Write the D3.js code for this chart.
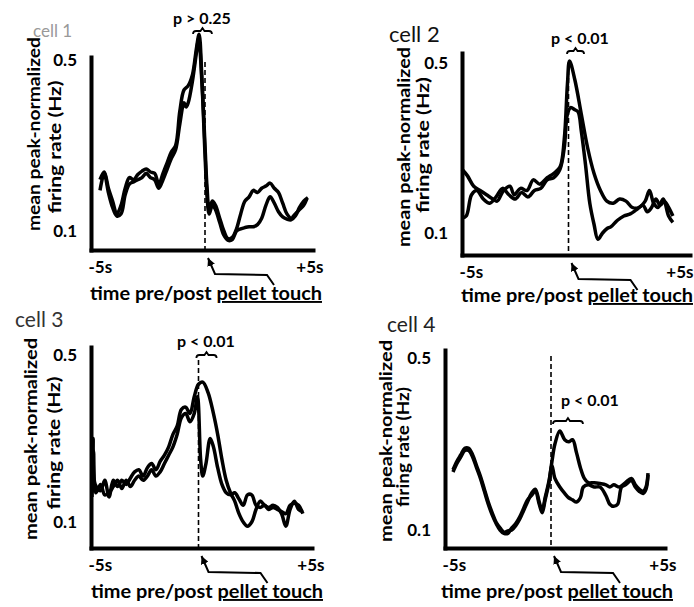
<!DOCTYPE html>
<html>
<head>
<meta charset="utf-8">
<style>
  body { margin: 0; background: #fff; }
  svg text { font-family: Lato, "Open Sans", sans-serif; }
</style>
</head>
<body>
<svg id="fig" width="694" height="607"></svg>
<script src="https://cdn.jsdelivr.net/npm/d3@7/dist/d3.min.js"></script>
<script>
// ---- values ----
const cellNames = ["cell 1", "cell 2", "cell 3", "cell 4"];
const pLabels = ["p > 0.25", "p < 0.01", "p < 0.01", "p < 0.01"];
const pWindows = [[-0.57, 0.33], [-0.07, 0.73], [-0.1, 0.85], [0.1, 1.63]]; // seconds
const yTicks = [0.1, 0.5];
const xTicks = [-5, 5];
const xTickLabels = ["-5s", "+5s"];
const yLabelLines = ["mean peak-normalized", "firing rate (Hz)"];
const xLabelPlain = "time pre/post ";
const xLabelUnderlined = "pellet touch";

// [time (s), rate] pairs, two traces per cell
const cell1A = [[-5,0.22],[-4.8,0.238],[-4.6,0.2],[-4.4,0.17],[-4.2,0.14],[-4,0.16],[-3.8,0.2],[-3.6,0.225],[-3.4,0.22],[-3.2,0.232],[-3,0.24],[-2.8,0.245],[-2.6,0.238],[-2.4,0.235],[-2.2,0.21],[-2,0.235],[-1.8,0.26],[-1.6,0.285],[-1.4,0.3],[-1.2,0.38],[-1,0.43],[-0.8,0.44],[-0.6,0.465],[-0.4,0.53],[-0.28,0.56],[-0.15,0.46],[0,0.3],[0.1,0.2],[0.2,0.15],[0.35,0.17],[0.5,0.16],[0.7,0.13],[0.9,0.1],[1.1,0.082],[1.3,0.085],[1.5,0.105],[1.7,0.14],[1.9,0.17],[2.1,0.18],[2.3,0.195],[2.5,0.19],[2.7,0.2],[2.9,0.205],[3.1,0.212],[3.3,0.2],[3.5,0.19],[3.7,0.165],[3.9,0.14],[4.1,0.13],[4.3,0.14],[4.5,0.15],[4.7,0.16],[4.85,0.175]];
const cell1B = [[-5,0.195],[-4.8,0.235],[-4.6,0.19],[-4.4,0.155],[-4.2,0.135],[-4,0.14],[-3.8,0.185],[-3.6,0.21],[-3.4,0.215],[-3.2,0.22],[-3,0.225],[-2.8,0.235],[-2.6,0.225],[-2.4,0.22],[-2.2,0.2],[-2,0.22],[-1.8,0.245],[-1.6,0.27],[-1.4,0.29],[-1.2,0.35],[-1,0.4],[-0.9,0.39],[-0.8,0.4],[-0.6,0.45],[-0.4,0.52],[-0.3,0.55],[-0.15,0.45],[0,0.28],[0.1,0.18],[0.2,0.14],[0.35,0.16],[0.5,0.15],[0.7,0.12],[0.9,0.09],[1.1,0.078],[1.3,0.08],[1.5,0.1],[1.7,0.105],[1.9,0.108],[2.1,0.11],[2.3,0.11],[2.5,0.115],[2.7,0.13],[2.9,0.16],[3.1,0.18],[3.3,0.165],[3.5,0.145],[3.7,0.133],[3.9,0.128],[4.1,0.126],[4.3,0.135],[4.5,0.155],[4.7,0.17],[4.9,0.178]];

const cell2A = [[-5,0.25],[-4.75,0.235],[-4.45,0.21],[-4.15,0.2],[-3.85,0.19],[-3.55,0.18],[-3.35,0.175],[-3.05,0.2],[-2.75,0.21],[-2.55,0.19],[-2.25,0.205],[-1.95,0.2],[-1.65,0.225],[-1.35,0.215],[-1,0.23],[-0.7,0.24],[-0.4,0.255],[-0.2,0.32],[-0.05,0.45],[0.05,0.505],[0.3,0.46],[0.6,0.38],[0.9,0.3],[1.2,0.24],[1.5,0.2],[1.8,0.175],[2.1,0.17],[2.4,0.18],[2.7,0.175],[3,0.16],[3.3,0.16],[3.6,0.175],[3.8,0.2],[4,0.17],[4.2,0.16],[4.45,0.18],[4.7,0.14],[4.9,0.125]];
const cell2B = [[-5,0.135],[-4.8,0.14],[-4.55,0.19],[-4.3,0.2],[-4,0.18],[-3.7,0.17],[-3.4,0.185],[-3.1,0.205],[-2.8,0.19],[-2.5,0.18],[-2.2,0.195],[-1.9,0.185],[-1.6,0.2],[-1.3,0.205],[-1,0.225],[-0.7,0.23],[-0.4,0.25],[-0.2,0.3],[-0.05,0.38],[0.1,0.395],[0.3,0.39],[0.45,0.385],[0.6,0.34],[0.8,0.26],[1,0.17],[1.2,0.12],[1.38,0.085],[1.6,0.1],[1.8,0.11],[2,0.115],[2.3,0.13],[2.6,0.14],[2.9,0.145],[3.2,0.155],[3.5,0.165],[3.7,0.15],[3.9,0.16],[4.1,0.18],[4.3,0.165],[4.5,0.175],[4.7,0.16],[4.9,0.14]];

const cell3A = [[-5,0.16],[-4.95,0.3],[-4.85,0.19],[-4.6,0.175],[-4.4,0.2],[-4.2,0.16],[-4,0.2],[-3.8,0.185],[-3.6,0.2],[-3.4,0.19],[-3.2,0.205],[-3,0.22],[-2.8,0.225],[-2.6,0.21],[-2.4,0.23],[-2.2,0.24],[-2,0.225],[-1.8,0.245],[-1.6,0.26],[-1.4,0.28],[-1.2,0.31],[-1,0.33],[-0.8,0.37],[-0.6,0.375],[-0.4,0.36],[-0.2,0.4],[0,0.43],[0.2,0.435],[0.45,0.41],[0.7,0.36],[0.9,0.31],[1.1,0.25],[1.3,0.2],[1.5,0.17],[1.7,0.15],[1.9,0.12],[2.1,0.1],[2.3,0.09],[2.5,0.1],[2.7,0.13],[2.9,0.15],[3.1,0.14],[3.3,0.135],[3.5,0.14],[3.7,0.135],[3.9,0.12],[4.1,0.09],[4.3,0.13],[4.5,0.15],[4.7,0.13],[4.9,0.125]];
const cell3B = [[-5,0.17],[-4.93,0.27],[-4.82,0.17],[-4.6,0.19],[-4.4,0.165],[-4.2,0.17],[-4,0.185],[-3.8,0.2],[-3.6,0.18],[-3.4,0.2],[-3.2,0.185],[-3,0.2],[-2.8,0.21],[-2.6,0.2],[-2.4,0.21],[-2.2,0.225],[-2,0.21],[-1.8,0.22],[-1.6,0.24],[-1.4,0.26],[-1.2,0.28],[-1,0.31],[-0.8,0.35],[-0.6,0.36],[-0.4,0.34],[-0.2,0.36],[-0.05,0.4],[0.1,0.25],[0.2,0.21],[0.35,0.24],[0.55,0.3],[0.7,0.28],[0.9,0.23],[1.1,0.19],[1.3,0.17],[1.5,0.165],[1.7,0.17],[1.9,0.155],[2.1,0.14],[2.3,0.165],[2.5,0.165],[2.7,0.14],[2.9,0.135],[3.1,0.14],[3.3,0.13],[3.5,0.135],[3.7,0.13],[3.9,0.125],[4.1,0.12],[4.3,0.14],[4.5,0.145],[4.7,0.14],[4.9,0.12]];

const cell4A = [[-5,0.24],[-4.8,0.26],[-4.6,0.275],[-4.4,0.29],[-4.2,0.29],[-4,0.275],[-3.8,0.25],[-3.6,0.225],[-3.4,0.195],[-3.2,0.165],[-3,0.14],[-2.8,0.118],[-2.6,0.105],[-2.4,0.095],[-2.2,0.098],[-2,0.1],[-1.8,0.11],[-1.6,0.125],[-1.4,0.145],[-1.2,0.165],[-1,0.185],[-0.8,0.195],[-0.6,0.165],[-0.45,0.145],[-0.3,0.175],[-0.1,0.215],[0.05,0.26],[0.2,0.3],[0.45,0.33],[0.7,0.31],[0.9,0.305],[1.1,0.31],[1.3,0.28],[1.5,0.245],[1.7,0.22],[1.9,0.21],[2.2,0.21],[2.5,0.208],[2.8,0.205],[3,0.2],[3.2,0.205],[3.5,0.2],[3.8,0.21],[4.1,0.22],[4.3,0.205],[4.5,0.195],[4.7,0.19],[4.85,0.2],[4.95,0.232]];
const cell4B = [[-5,0.235],[-4.8,0.255],[-4.6,0.27],[-4.4,0.285],[-4.2,0.285],[-4,0.27],[-3.8,0.245],[-3.6,0.22],[-3.4,0.19],[-3.2,0.16],[-3,0.135],[-2.8,0.115],[-2.6,0.1],[-2.4,0.092],[-2.2,0.092],[-2,0.105],[-1.8,0.115],[-1.6,0.13],[-1.4,0.15],[-1.2,0.17],[-1,0.18],[-0.8,0.19],[-0.6,0.16],[-0.45,0.14],[-0.3,0.17],[-0.1,0.21],[0.05,0.25],[0.2,0.22],[0.45,0.2],[0.7,0.185],[0.9,0.175],[1.1,0.17],[1.3,0.165],[1.5,0.175],[1.65,0.2],[1.9,0.205],[2.2,0.2],[2.5,0.2],[2.8,0.18],[3,0.16],[3.2,0.155],[3.4,0.16],[3.6,0.2],[3.8,0.205],[4.1,0.215],[4.3,0.2],[4.5,0.19],[4.7,0.185],[4.85,0.195],[4.95,0.228]];

const traces = [[cell1A, cell1B], [cell2A, cell2B], [cell3A, cell3B], [cell4A, cell4B]];

// ---- layout of the four panels (pixels) ----
const layout = [
  { axisX: 91, axisR: 313, top: 57, bottom: 250, x0: 100, x1: 310, yLo: 231, yHi: 60, dashTop: 62, tickEnd: 323,
    name: { x: 33, y: 37, size: 17, fill: "#999" }, ylab: [[33, 134, 194], [54, 147, 133]],
    p: { cx: 202, y: 24, by: 31 }, xlab: { cx: 206, y: 300 } },
  { axisX: 462, axisR: 690, top: 53, bottom: 255, x0: 462, x1: 675, yLo: 233, yHi: 63, dashTop: 62, tickEnd: 693,
    name: { x: 389, y: 42, size: 22, fill: "#111" }, ylab: [[403, 147, 200], [422, 145, 136]],
    p: { cx: 580, y: 44, by: 51 }, xlab: { cx: 577, y: 302 } },
  { axisX: 91, axisR: 312, top: 347, bottom: 548, x0: 92, x1: 305, yLo: 522, yHi: 355, dashTop: 360, tickEnd: 324,
    name: { x: 15, y: 327, size: 21, fill: "#333" }, ylab: [[30, 439, 202], [53, 443, 133]],
    p: { cx: 206, y: 347, by: 355 }, xlab: { cx: 207, y: 598 } },
  { axisX: 445, axisR: 665, top: 350, bottom: 548, x0: 453, x1: 649, yLo: 530, yHi: 358, dashTop: 356, tickEnd: 676,
    name: { x: 387, y: 332, size: 21, fill: "#222" }, ylab: [[385, 441, 202], [402, 447, 120]],
    p: { cx: 590, y: 406, by: 421 }, xlab: { cx: 557, y: 598 } }
];

const svg = d3.select("#fig");

svg.append("defs").append("marker")
  .attr("id", "head")
  .attr("viewBox", "0 0 10 10")
  .attr("refX", 10).attr("refY", 5)
  .attr("markerWidth", 8).attr("markerHeight", 8)
  .attr("markerUnits", "userSpaceOnUse")
  .attr("orient", "auto-start-reverse")
  .append("path").attr("d", "M0,0 L10,5 L0,10 z").attr("fill", "#000");

layout.forEach((L, i) => {
  const g = svg.append("g");

  const x = d3.scaleLinear().domain([-5, 5]).range([L.x0, L.x1]);
  const y = d3.scaleLinear().domain([0.1, 0.5]).range([L.yLo, L.yHi]);
  // axis versions of the scales stretched to the drawn frame
  const xa = x.copy().domain([x.invert(L.axisX), x.invert(L.axisR)]).range([L.axisX, L.axisR]);
  const ya = y.copy().domain([y.invert(L.bottom), y.invert(L.top)]).range([L.bottom, L.top]);

  // dashed touch line
  g.append("line")
    .attr("x1", x(0)).attr("x2", x(0))
    .attr("y1", L.dashTop).attr("y2", L.bottom)
    .attr("stroke", "#000").attr("stroke-width", 1.6)
    .attr("stroke-dasharray", "5,3");

  // traces
  const line = d3.line()
    .x(d => x(d[0]))
    .y(d => y(d[1]))
    .curve(d3.curveCatmullRom.alpha(0.5));

  g.selectAll("path.trace")
    .data(traces[i])
    .enter()
    .append("path")
    .attr("class", "trace")
    .attr("d", line)
    .attr("fill", "none")
    .attr("stroke", "#000")
    .attr("stroke-width", 3.5)
    .attr("stroke-linejoin", "round");

  // y axis
  const yAxis = g.append("g")
    .attr("transform", `translate(${L.axisX},0)`)
    .call(d3.axisLeft(ya).tickValues(yTicks).tickSize(0).tickSizeOuter(0).tickPadding(14).tickFormat(d3.format(".1f")));
  yAxis.select(".domain").attr("stroke-width", 4).attr("stroke-linecap", "square");
  yAxis.selectAll(".tick text")
    .attr("font-size", 17).attr("font-weight", "bold").attr("fill", "#000")
    .attr("font-family", "Lato, 'Open Sans', sans-serif");

  // x axis
  const xAxis = g.append("g")
    .attr("transform", `translate(0,${L.bottom})`)
    .call(d3.axisBottom(xa).tickValues(xTicks).tickSize(0).tickSizeOuter(0).tickPadding(11)
      .tickFormat((d, k) => xTickLabels[k]));
  xAxis.select(".domain").attr("stroke-width", 4).attr("stroke-linecap", "square");
  xAxis.selectAll(".tick text")
    .attr("font-size", 17).attr("font-weight", "bold").attr("fill", "#000")
    .attr("font-family", "Lato, 'Open Sans', sans-serif")
    .attr("text-anchor", d => d < 0 ? "start" : "end")
    .attr("x", d => d < 0 ? L.axisX - 3 - xa(d) : L.tickEnd - xa(d));

  // arrow under the touch point
  const t0 = x(0), b = L.bottom;
  g.append("path")
    .attr("d", `M${t0 + 3},${b + 8} L${t0 + 10},${b + 24} L${t0 + 62},${b + 25} L${t0 + 69},${b + 35}`)
    .attr("fill", "none").attr("stroke", "#000").attr("stroke-width", 2)
    .attr("marker-start", "url(#head)");

  // cell name
  g.append("text")
    .attr("x", L.name.x).attr("y", L.name.y)
    .attr("font-size", L.name.size).attr("fill", L.name.fill)
    .text(cellNames[i]);

  // y label, two rotated lines
  yLabelLines.forEach((s, k) => {
    const [cx, cy, len] = L.ylab[k];
    g.append("text")
      .attr("transform", `translate(${cx},${cy}) rotate(-90)`)
      .attr("text-anchor", "middle")
      .attr("dominant-baseline", "central")
      .attr("font-size", 17).attr("font-weight", "bold")
      .attr("textLength", len).attr("lengthAdjust", "spacingAndGlyphs")
      .text(s);
  });

  // x label
  const xl = g.append("text")
    .attr("x", L.xlab.cx).attr("y", L.xlab.y)
    .attr("text-anchor", "middle")
    .attr("font-size", 19).attr("font-weight", "bold")
    .attr("textLength", 232).attr("lengthAdjust", "spacingAndGlyphs");
  xl.append("tspan").text(xLabelPlain);
  xl.append("tspan").attr("text-decoration", "underline").text(xLabelUnderlined);

  // significance window bracket + p text
  const [wa, wb] = pWindows[i].map(x);
  const wc = (wa + wb) / 2, by = L.p.by;
  g.append("path")
    .attr("d", `M${wa},${by + 3} Q${wa},${by} ${wa + 3},${by} L${wc - 2},${by} L${wc},${by - 3} L${wc + 2},${by} L${wb - 3},${by} Q${wb},${by} ${wb},${by + 3}`)
    .attr("fill", "none").attr("stroke", "#000").attr("stroke-width", 1.8);
  g.append("text")
    .attr("x", L.p.cx).attr("y", L.p.y)
    .attr("text-anchor", "middle")
    .attr("font-size", 16).attr("font-weight", "bold")
    .text(pLabels[i]);
});
</script>
</body>
</html>
